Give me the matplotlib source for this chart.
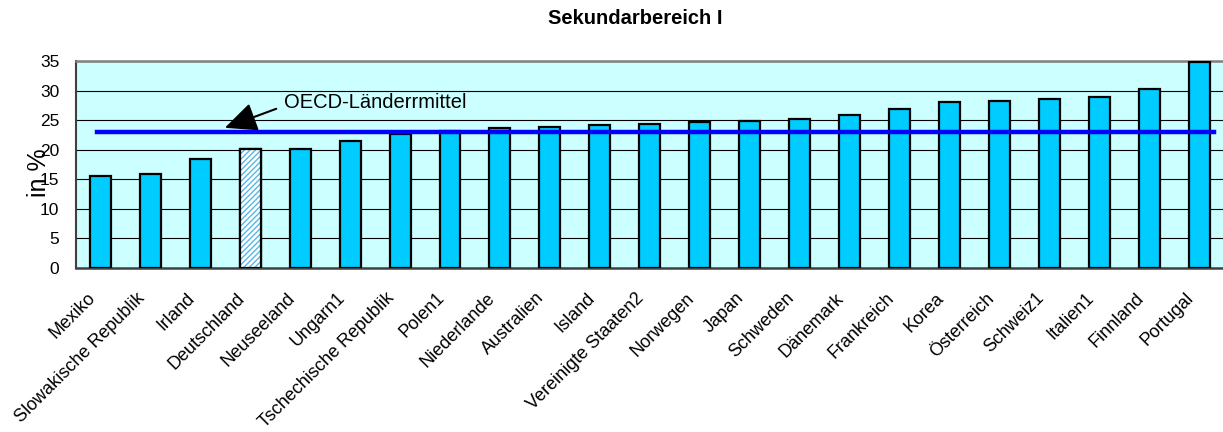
import matplotlib.pyplot as plt
import matplotlib.transforms as mtransforms
import numpy as np

plt.rcParams['font.family'] = ['Liberation Sans', 'DejaVu Sans']

# data
laender = ['Mexiko', 'Slowakische Republik', 'Irland', 'Deutschland', 'Neuseeland',
           'Ungarn1', 'Tschechische Republik', 'Polen1', 'Niederlande', 'Australien',
           'Island', 'Vereinigte Staaten2', 'Norwegen', 'Japan', 'Schweden', 'Dänemark',
           'Frankreich', 'Korea', 'Österreich', 'Schweiz1', 'Italien1', 'Finnland', 'Portugal']
werte = [15.6, 15.9, 18.4, 20.2, 20.2, 21.5, 22.6, 23.2, 23.7, 23.9, 24.2, 24.4,
         24.7, 24.9, 25.2, 25.9, 26.8, 28.0, 28.2, 28.6, 28.9, 30.3, 34.8]
oecd_mittel = 23.05
hervorgehoben = 'Deutschland'
y_ticks = [0, 5, 10, 15, 20, 25, 30, 35]

fig = plt.figure(figsize=(12.23, 4.32), dpi=100)
ax = fig.add_axes([76 / 1223, 164 / 432, 1148 / 1223, 207 / 432])
ax.set_facecolor('#CCFFFF')

x = np.arange(len(laender))
farben = ['#00CCFF' if l != hervorgehoben else 'white' for l in laender]
bars = ax.bar(x, werte, width=0.42, color=farben, edgecolor='black', linewidth=1.6, zorder=3)

# hatched bar for Deutschland
i = laender.index(hervorgehoben)
ax.bar(x[i], werte[i], width=0.42, color='white', edgecolor='#55B8E8', hatch='//////',
       linewidth=0, zorder=3)
ax.bar(x[i], werte[i], width=0.42, fill=False, edgecolor='black', linewidth=1.6, zorder=4)

# OECD mean line
ax.plot([x[0] - 0.07, x[-1] + 0.3], [oecd_mittel, oecd_mittel], color='#0000FF', lw=3.2, zorder=5)
ax.annotate('OECD-Länderrmittel', xy=(2.49, 23.7), xytext=(3.68, 27.9),
            fontsize=14.5, ha='left', va='center',
            arrowprops=dict(arrowstyle='-|>,head_length=1.1,head_width=0.5', color='black',
                            lw=1.5, relpos=(0, 0.35), shrinkA=4, shrinkB=0, mutation_scale=18),
            zorder=6)

ax.set_xlim(-0.49, 22.5)
ax.set_ylim(0, 35)
ax.set_yticks(y_ticks)
ax.yaxis.grid(True, color='black', lw=0.8, zorder=0)
ax.set_axisbelow(True)
ax.tick_params(axis='y', length=0, pad=12, labelsize=12.5)
ax.tick_params(axis='x', length=0, pad=4)
ax.set_xticks(x)
ax.set_xticklabels(laender, rotation=45, ha='right', rotation_mode='anchor', fontsize=13)
verschiebung = mtransforms.ScaledTranslation(-0.14, -0.16, fig.dpi_scale_trans)
for lab in ax.get_xticklabels():
    lab.set_transform(lab.get_transform() + verschiebung)

ax.set_ylabel('in %', fontsize=18)
ax.yaxis.set_label_coords(-0.022, 0.46)

for s in ['top', 'right']:
    ax.spines[s].set_color('#808080')
    ax.spines[s].set_linewidth(1.8)
ax.spines['bottom'].set_color('#404040')
ax.spines['bottom'].set_linewidth(1.8)
ax.spines['left'].set_color('#404040')
ax.spines['left'].set_linewidth(1.5)

fig.text(635 / 1223, 1 - 18 / 432, 'Sekundarbereich I', ha='center', va='center',
         fontsize=14.5, fontweight='bold')

fig.savefig('out.png', dpi=100)
